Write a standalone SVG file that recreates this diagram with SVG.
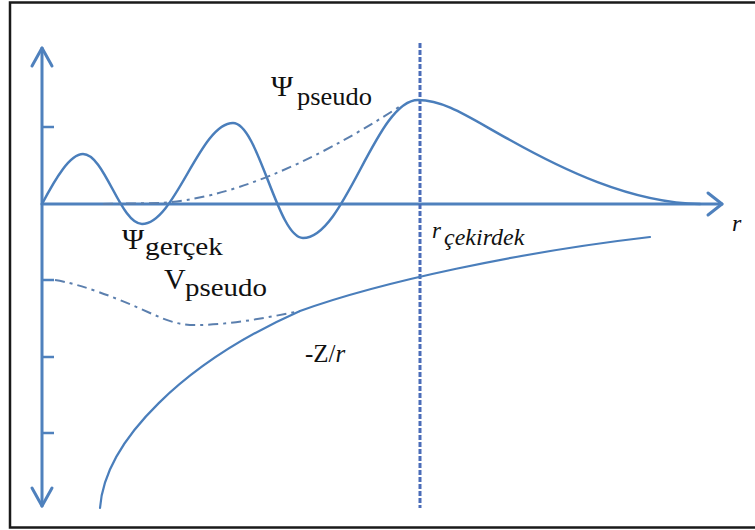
<svg xmlns="http://www.w3.org/2000/svg" width="755" height="530" viewBox="0 0 755 530">
<style>
.axis{fill:none;stroke:#4f81bd;stroke-width:3;stroke-linecap:round;stroke-linejoin:round}
.tick{stroke:#4f81bd;stroke-width:2.5}
.curve{fill:none;stroke:#4a7ebb;stroke-width:2.5;stroke-linecap:round}
.dashdot{fill:none;stroke:#5b7fae;stroke-width:2;stroke-dasharray:10 5 3 5}
.core{fill:none;stroke:#4a6cb8;stroke-width:3;stroke-dasharray:5 2}
text{font-family:'Liberation Serif','DejaVu Serif',serif;fill:#111}
.it{font-style:italic}
</style>
<rect x="0" y="0" width="755" height="530" fill="#fff"/>
<rect x="10" y="2.5" width="760" height="525" fill="none" stroke="#1a1a1a" stroke-width="2.5"/>
<g id="axes">
<line class="axis" x1="42" y1="48" x2="42" y2="506"/>
<polyline class="axis" points="32,66 42,48 52,66"/>
<polyline class="axis" points="32,488 42,506 52,488"/>
<line class="axis" x1="42" y1="204" x2="722" y2="204"/>
<polyline class="axis" points="708,193 722,204 708,215"/>
<line class="tick" x1="42" y1="127" x2="54" y2="127"/>
<line class="tick" x1="42" y1="280" x2="54" y2="280"/>
<line class="tick" x1="42" y1="357" x2="54" y2="357"/>
<line class="tick" x1="42" y1="433" x2="54" y2="433"/>
</g>
<g id="core-radius">
<line class="core" x1="420" y1="43" x2="420" y2="508"/>
</g>
<g id="psi-real">
<path class="curve" d="M42,204 C55.4,178.4 70,154 83,154 C104.5,154 120.5,224 142,224 C175,224 200,123 233,123 C258.5,123 277.5,238 303,238 C345,238 376,100 418,100 C445,100 470,118 510,140 C560,168 630,203 700,204"/>
</g>
<g id="psi-pseudo">
<path class="dashdot" d="M103,204 L160,203 C225,199 305,168 402,105"/>
</g>
<g id="v-pseudo">
<path class="dashdot" d="M55,280 C80,284 115,297 150,313 C170,322 180,325 195,325 C230,325 265,318 300,311"/>
</g>
<g id="coulomb">
<path class="curve" style="stroke-width:2.2" d="M100,508 C105,440 185,362 300,311 C380,282 520,252 650,237"/>
</g>
<g id="labels">
<text x="271" y="96" font-size="30">Ψ</text>
<text x="297" y="105" font-size="26" textLength="75" lengthAdjust="spacingAndGlyphs">pseudo</text>
<text x="122" y="249" font-size="30">Ψ</text>
<text x="145" y="255" font-size="26" textLength="78" lengthAdjust="spacingAndGlyphs">gerçek</text>
<text x="164" y="289" font-size="30">V</text>
<text x="185" y="296" font-size="26" textLength="82" lengthAdjust="spacingAndGlyphs">pseudo</text>
<text x="305" y="362" font-size="25">-Z/<tspan class="it">r</tspan></text>
<text class="it" x="432" y="238" font-size="23">r</text>
<text class="it" x="444" y="245" font-size="24">çekirdek</text>
<text class="it" x="732" y="231" font-size="24">r</text>
</g>
</svg>
